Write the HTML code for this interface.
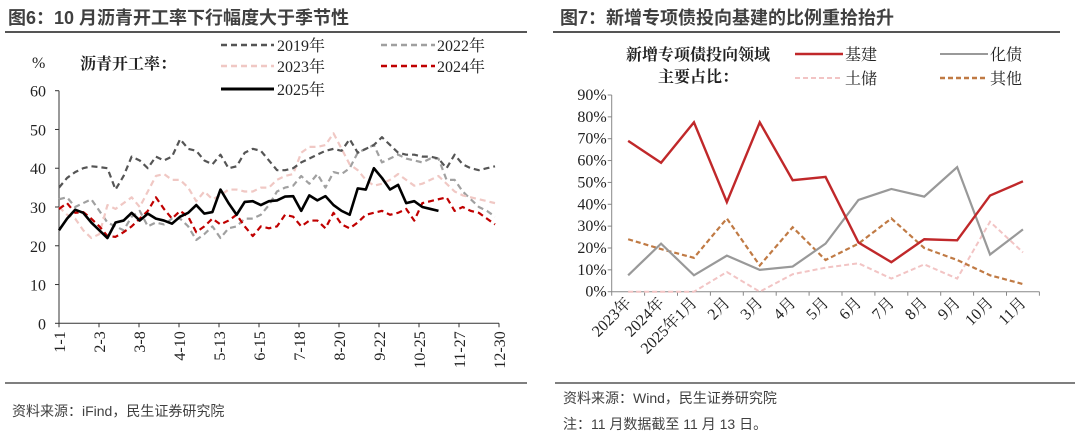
<!DOCTYPE html>
<html><head><meta charset="utf-8"><style>
html,body{margin:0;padding:0;background:#fff;}
svg{display:block;}
.t{font-family:"Liberation Sans","Noto Sans CJK SC",sans-serif;font-weight:bold;font-size:18px;fill:#404040;}
.s{font-family:"Liberation Serif","Noto Serif CJK SC",serif;font-size:16px;fill:#222;}
.src{font-family:"Liberation Sans","Noto Sans CJK SC",sans-serif;font-size:14px;fill:#404040;}
</style></head><body>
<svg id="svg" width="1080" height="444" viewBox="0 0 1080 444" xmlns="http://www.w3.org/2000/svg">
<text class="t" x="8" y="24">图6：10 月沥青开工率下行幅度大于季节性</text>
<line x1="5" y1="32" x2="527" y2="32" stroke="#555" stroke-width="2"/>
<text class="t" x="560" y="24">图7：新增专项债投向基建的比例重拾抬升</text>
<line x1="553" y1="32" x2="1060" y2="32" stroke="#555" stroke-width="2"/>
<line x1="5" y1="383" x2="527" y2="383" stroke="#555" stroke-width="1.5"/>
<line x1="555" y1="383" x2="1075" y2="383" stroke="#555" stroke-width="1.5"/>
<text class="src" x="12" y="416">资料来源：iFind，民生证券研究院</text>
<text class="src" x="563" y="403">资料来源：Wind，民生证券研究院</text>
<text class="src" x="563" y="429">注：11 月数据截至 11 月 13 日。</text>

<text class="s" x="32" y="68">%</text>
<text class="s" x="80" y="69" font-weight="bold">沥青开工率：</text>
<g><line x1="221" y1="45" x2="274" y2="45" stroke="#555" stroke-width="2.5" stroke-dasharray="6,4"/><text class="s" x="277" y="51">2019年</text></g>
<g><line x1="381" y1="45" x2="435" y2="45" stroke="#a0a0a0" stroke-width="2.5" stroke-dasharray="6,4"/><text class="s" x="437" y="51">2022年</text></g>
<g><line x1="221" y1="66" x2="274" y2="66" stroke="#f0c8c4" stroke-width="2.5" stroke-dasharray="6,4"/><text class="s" x="277" y="72">2023年</text></g>
<g><line x1="381" y1="66" x2="435" y2="66" stroke="#c00000" stroke-width="2.5" stroke-dasharray="6,4"/><text class="s" x="437" y="72">2024年</text></g>
<g><line x1="221" y1="89" x2="274" y2="89" stroke="#000" stroke-width="3"/><text class="s" x="277" y="95">2025年</text></g>

<text class="s" x="626" y="60" font-weight="bold" font-size="15">新增专项债投向领域</text>
<text class="s" x="658" y="82" font-weight="bold" font-size="15">主要占比：</text>
<g><line x1="795" y1="54" x2="843" y2="54" stroke="#c0282a" stroke-width="2.5"/><text class="s" x="845" y="60">基建</text></g>
<g><line x1="940" y1="54" x2="988" y2="54" stroke="#999" stroke-width="2"/><text class="s" x="990" y="60">化债</text></g>
<g><line x1="795" y1="78" x2="843" y2="78" stroke="#f2c4c4" stroke-width="2" stroke-dasharray="5,3"/><text class="s" x="845" y="84">土储</text></g>
<g><line x1="940" y1="78" x2="988" y2="78" stroke="#c07a44" stroke-width="2.5" stroke-dasharray="5,3"/><text class="s" x="990" y="84">其他</text></g>

<g id="left"></g>
<g id="right"></g>
</svg>
<script>
const leftTickLabels=["1-1","2-3","3-8","4-10","5-13","6-15","7-18","8-20","9-22","10-25","11-27","12-30"];
const leftYTicks=[0,10,20,30,40,50,60];
const s2019=[35,37.5,39,40,40.5,40.3,40,34.5,38,43,42,40,43,42,43,47.5,45,44.5,42,41,43.5,40,40.5,44,45,44.5,42,39.5,39.5,40,41.5,42.5,43.5,44.5,45,44.5,47.5,44,45,46,48,46,44,43.5,43.5,43,43,42.5,40,43.5,41,40,39.5,40,40.5];
const s2022=[32,32.5,30,31,32,29,26,25,24,27.5,29,25,26,25.5,27,27,25,21.5,23,25,22,24.5,25,27,27,28,30.5,34,35,35.5,38,36,38.5,35,39,38.5,40,44,45,46,41.5,42.5,43.5,42.5,42,41.5,42.5,42.5,37,37,34,32,30,29,27.5];
const s2023=[30,28,27,24,22,23,30.5,29.5,31,32.5,30,34,38,38.5,37,37,35,31.5,34,32,33,34.5,34.5,34,34,35,35,37,38,38.5,44,45.5,45.5,46,49,45,41,39.5,37,35.5,36,37,38.5,37,35.5,36,37,38,36,34,33,32.5,32,31.5,31];
const s2024=[29.5,31,28.5,28.7,27,25,22.5,22.3,23.5,25,27,29,32.5,29.5,27,29,27.5,23.5,25,27,25.5,26.5,28,25,22.5,25,24.5,25,28,27.5,25,26.5,26.5,24.5,28.5,25.5,24.5,26,28,28.5,29,28,28.5,29.5,26.5,31,31.5,32,32.5,29,30,29,28.5,27,25.5];
const s2025=[24,27,29.3,28.5,26,24,22,26,26.5,28.5,26.5,28.3,27,26.5,25.7,27.5,28.5,30.5,28.3,28.7,34.5,31,28,31.3,31.5,30.5,31.5,31.7,32.7,32.8,29,33,31.7,32.8,30.5,29,28,34.8,34.5,40,37.5,34.5,35.7,31,31.5,30,29.5,29];

const rightCats=["2023年","2024年","2025年1月","2月","3月","4月","5月","6月","7月","8月","9月","10月","11月"];
const rightYTicks=[0,10,20,30,40,50,60,70,80,90];
const jijian=[69,59,77.5,41,77.5,51,52.5,22.5,13.5,24,23.5,44,50.5];
const huazhai=[7.5,22,7.5,16.5,10,11.5,22,42,47,43.5,57,17,28.5];
const tuchu=[0,0,0,9,0,8,11,13,6,12.5,6,32,18];
const qita=[24,19.5,15.5,33.5,12,29.5,14.5,22,33.5,20,14.5,7.5,3.5];

const NS="http://www.w3.org/2000/svg";
function mk(parent,tag,attrs){const e=document.createElementNS(NS,tag);for(const k in attrs)e.setAttribute(k,attrs[k]);parent.appendChild(e);return e;}

const L=document.getElementById('left');
const lx0=59,lx1=499,ly0=323.3,ly1=90.7;
const ly=v=>ly0-(v-0)/60*(ly0-ly1);
const lxStep=(495-59)/54;
const lxi=i=>lx0+i*lxStep;
const la=mk(L,'line',{x1:lx0,y1:ly1,x2:lx0,y2:ly0,stroke:'#333','stroke-width':1});


const lxa=mk(L,'line',{x1:lx0,y1:ly0,x2:lx1,y2:ly0,stroke:'#333','stroke-width':1});


leftYTicks.forEach(v=>{
  mk(L,'line',{x1:lx0-4,y1:ly(v),x2:lx0,y2:ly(v),stroke:'#333'});
  const t=mk(L,'text',{x:46,y:ly(v)+6,'text-anchor':'end',class:'s','font-size':17});
  t.textContent=v;
  
  
});
leftTickLabels.forEach((lab,i)=>{
  const x=lx0+i*(lx1-lx0)/11;
  mk(L,'line',{x1:x,y1:ly0,x2:x,y2:ly0+4,stroke:'#333'});
  const t=mk(L,'text',{x:0,y:0,'text-anchor':'end',class:'s','font-size':16,transform:`translate(${x+6},${ly0+8}) rotate(-90)`});
  t.textContent=lab;
  
  
});
function lline(arr,color,w,dash,name){
  const p=mk(L,'polyline',{points:arr.map((v,i)=>lxi(i)+','+ly(v)).join(' '),fill:'none',stroke:color,'stroke-width':w,'stroke-dasharray':dash||'none','stroke-linejoin':'round'});
  
  
}
lline(s2022,'#a0a0a0',2.2,'6,4','line-2022');
lline(s2023,'#f0c8c4',2.2,'6,4','line-2023');
lline(s2019,'#555',2.2,'6,4','line-2019');
lline(s2024,'#c00000',2.2,'6,4','line-2024');
lline(s2025,'#000',2.6,null,'line-2025');

const R=document.getElementById('right');
const rx0=611.7,rx1=1039.4,ry0=291.7,ry1=95;
const band=(rx1-rx0)/rightCats.length;
const rx=i=>rx0+band*(i+0.5);
const ry=v=>ry0-v/90*(ry0-ry1);
const ra=mk(R,'line',{x1:rx0,y1:ry1,x2:rx0,y2:ry0,stroke:'#888'});


const rxa=mk(R,'line',{x1:rx0,y1:ry0,x2:rx1,y2:ry0,stroke:'#888'});


rightYTicks.forEach(v=>{
  mk(R,'line',{x1:rx0-4,y1:ry(v),x2:rx0,y2:ry(v),stroke:'#888'});
  const t=mk(R,'text',{x:rx0-5,y:ry(v)+5,'text-anchor':'end',class:'s','font-size':15});
  t.textContent=v+'%';
  
  
});
for(let i=0;i<=rightCats.length;i++){const x=rx0+band*i;mk(R,'line',{x1:x,y1:ry0,x2:x,y2:ry0+4,stroke:'#888'});}
rightCats.forEach((lab,i)=>{
  const t=mk(R,'text',{x:0,y:0,'text-anchor':'end',class:'s','font-size':16,transform:`translate(${rx(i)+4},${ry0+12}) rotate(-45)`});
  t.textContent=lab;
  
  
});
function rline(arr,color,w,dash,name){
  const p=mk(R,'polyline',{points:arr.map((v,i)=>rx(i)+','+ry(v)).join(' '),fill:'none',stroke:color,'stroke-width':w,'stroke-dasharray':dash||'none'});
  
  
}
rline(tuchu,'#f2c4c4',2,'5,3','line-tuchu');
rline(qita,'#c07a44',2.2,'5,3','line-qita');
rline(huazhai,'#999',2.2,null,'line-huazhai');
rline(jijian,'#c0282a',2.4,null,'line-jijian');
</script>
</body></html>
